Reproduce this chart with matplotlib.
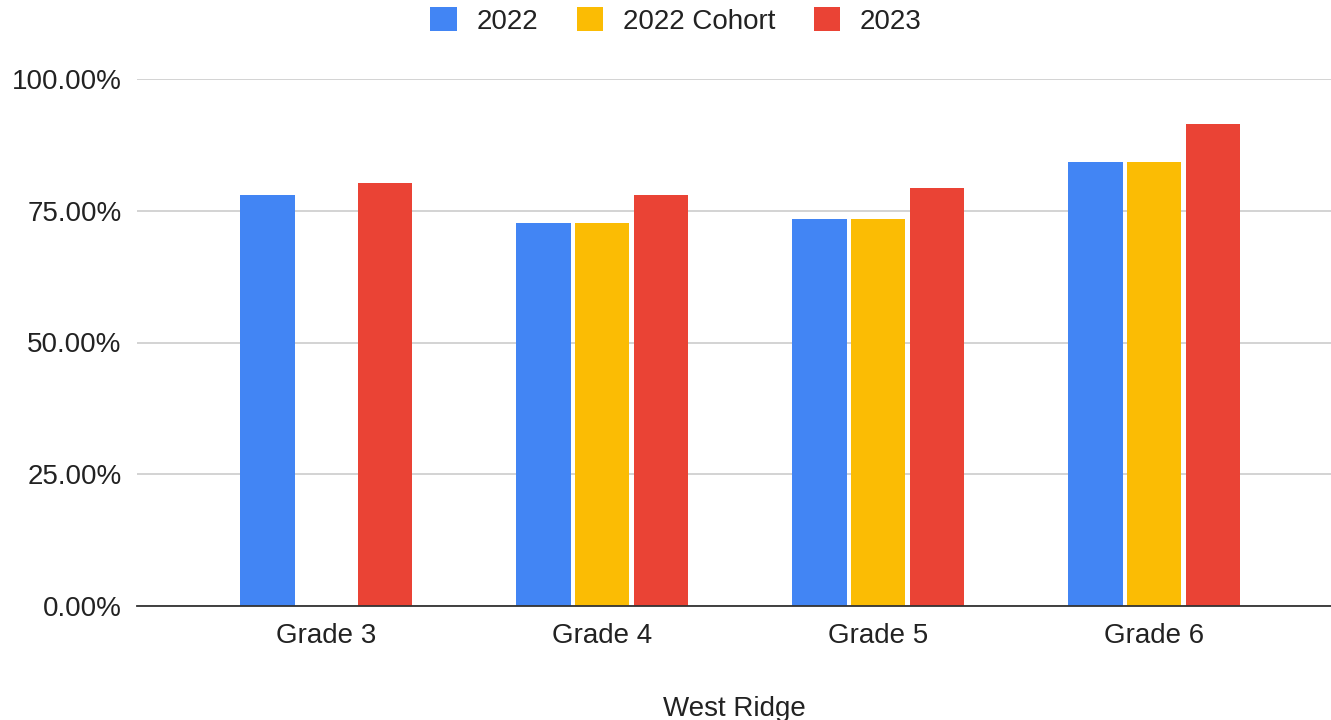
import matplotlib
matplotlib.use("Agg")
import matplotlib.pyplot as plt
import numpy as np
from matplotlib.patches import Patch
from matplotlib.ticker import FuncFormatter

categories = ["Grade 3", "Grade 4", "Grade 5", "Grade 6"]
series_names = ["2022", "2022 Cohort", "2023"]
v2022 = [78.0, 72.6, 73.4, 84.2]
v2022_cohort = [np.nan, 72.6, 73.4, 84.2]
v2023 = [80.2, 78.0, 79.4, 91.5]
colors = ["#4285F4", "#FBBC04", "#EA4335"]

plt.rcParams['font.family'] = ['Liberation Sans', 'DejaVu Sans']
text_color = "#222222"
fs = 20

fig = plt.figure(figsize=(13.31, 7.2), dpi=100)
ax = fig.add_axes([137/1331, 1 - 606/720, 1 - 137/1331, (606 - 79)/720])

x = np.arange(len(categories))
width = 0.198
offsets = [-0.213, 0.0, 0.213]
for vals, off, c in zip([v2022, v2022_cohort, v2023], offsets, colors):
    ax.bar(x + off, vals, width=width, color=c, zorder=3)

ax.set_ylim(0, 100)
ax.set_xlim(-0.685, 3.641)
ax.set_yticks([0, 25, 50, 75, 100])
ax.yaxis.set_major_formatter(FuncFormatter(lambda v, p: f"{v:.2f}%"))
ax.set_xticks(x)
ax.set_xticklabels(categories)
ax.tick_params(axis='both', length=0, labelsize=fs, colors=text_color)
ax.tick_params(axis='y', pad=11)
ax.tick_params(axis='x', pad=12)
ax.grid(axis='y', color='#cccccc', linewidth=1.2, zorder=0)
for s in ['top', 'right', 'left']:
    ax.spines[s].set_visible(False)
ax.spines['bottom'].set_color('#333333')
ax.spines['bottom'].set_linewidth(1.3)
ax.spines['bottom'].set_zorder(4)
ax.set_xlabel("West Ridge", fontsize=fs, color=text_color, labelpad=34)

handles = [Patch(facecolor=c, edgecolor='none') for c in colors]
fig.legend(handles, series_names, loc='center', bbox_to_anchor=(676/1331, 1 - 21/720),
           ncol=3, frameon=False, fontsize=fs, handlelength=0.95, handleheight=0.95,
           handletextpad=0.7, columnspacing=1.4, labelcolor=text_color)

fig.savefig("out.png", dpi=100, facecolor='white')
